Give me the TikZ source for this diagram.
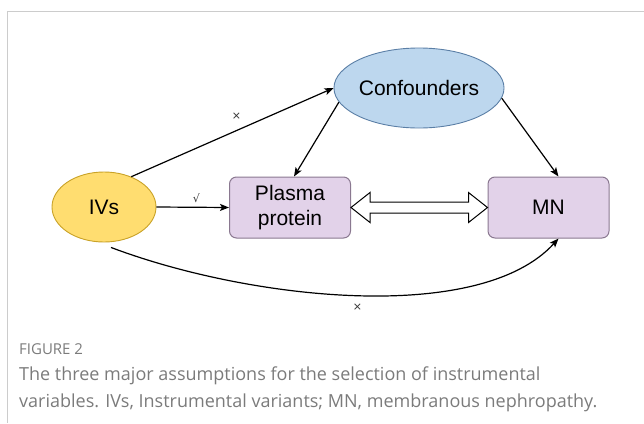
\documentclass[tikz,border=0pt]{standalone}
\usepackage{fontspec}
\setmainfont{Liberation Sans}
\newfontfamily\capfont{Open Sans}
\newfontfamily\symfont{DejaVu Sans}
\usetikzlibrary{arrows.meta,calc,shapes.geometric}
\definecolor{confblue}{HTML}{BDD7EE}
\definecolor{confline}{HTML}{5B7FA6}
\definecolor{ivsyellow}{HTML}{FFDD70}
\definecolor{ivsline}{HTML}{C9A227}
\definecolor{boxpurple}{HTML}{E2D2E9}
\definecolor{boxline}{HTML}{8A7890}
\definecolor{capgray}{HTML}{7B7B7B}
\definecolor{framegray}{HTML}{CCCCCC}
\begin{document}
\begin{tikzpicture}[x=1pt,y=-1pt,
    every node/.style={inner sep=0pt},
    ellnode/.style={ellipse,line width=0.9pt,font=\fontsize{21}{25}\selectfont},
    boxnode/.style={rectangle,rounded corners=7pt,draw=boxline,fill=boxpurple,line width=1pt,
        minimum width=121pt,minimum height=61pt,align=center,font=\fontsize{21}{25}\selectfont},
    link/.style={line width=1.2pt,-{Stealth[length=9pt,width=7pt,inset=2pt]}},
    tick/.style={font=\symfont\fontsize{11}{11}\selectfont,text=black!80},
    captext/.style={anchor=base west,text=capgray,font=\capfont\fontsize{18}{20}\selectfont}]
    \useasboundingbox (0,0) rectangle (644,423);
    \draw [framegray,line width=1pt] (644,11.5) -- (7.5,11.5) -- (7.5,423);
    \node [ellnode,draw=ivsline,fill=ivsyellow,minimum width=104pt,minimum height=70pt] (ivs) at (104,207) {IVs};
    \node [ellnode,draw=confline,fill=confblue,minimum width=142pt,minimum height=80pt] (conf) at (419,88) {Confounders};
    \node [boxnode] (pp) at (290,207.5) {Plasma\\protein};
    \node [boxnode] (mn) at (548.5,207.5) {MN};
    \draw [link] (ivs.48) -- (conf.west) node [tick,midway,above=12pt,xshift=4pt] {×};
    \draw [link] (conf.190) -- ($(pp.north)+(4,0)$);
    \draw [link] (conf.-7) -- ($(mn.north)+(10,0)$);
    \draw [link] (ivs.east) -- (pp.west) node [tick,pos=0.55,above=4pt] {√};
    \draw [link] ($(ivs.south)+(7,5)$) .. controls (250,300) and (480,325) .. ($(mn.south)+(10,0)$)
        node [tick,pos=0.5,below=8pt] {×};
    \draw [line width=1pt,fill=white] (pp.east) -- ($(pp.east)+(19,-15)$) -- ($(pp.east)+(19,-5.5)$)
        -- ($(mn.west)+(-19,-5.5)$) -- ($(mn.west)+(-19,-15)$) -- (mn.west) -- ($(mn.west)+(-19,15)$)
        -- ($(mn.west)+(-19,5.5)$) -- ($(pp.east)+(19,5.5)$) -- ($(pp.east)+(19,15)$) -- cycle;
    \node [captext,font=\capfont\fontsize{15}{17}\selectfont] (fig) at (19,354) {FIGURE 2};
    \node [captext] (cap1) at (19,380.5) {The three major assumptions for the selection of instrumental};
    \node [captext] (cap2) at (19,407) {variables. IVs, Instrumental variants; MN, membranous nephropathy.};
\end{tikzpicture}
\end{document}
